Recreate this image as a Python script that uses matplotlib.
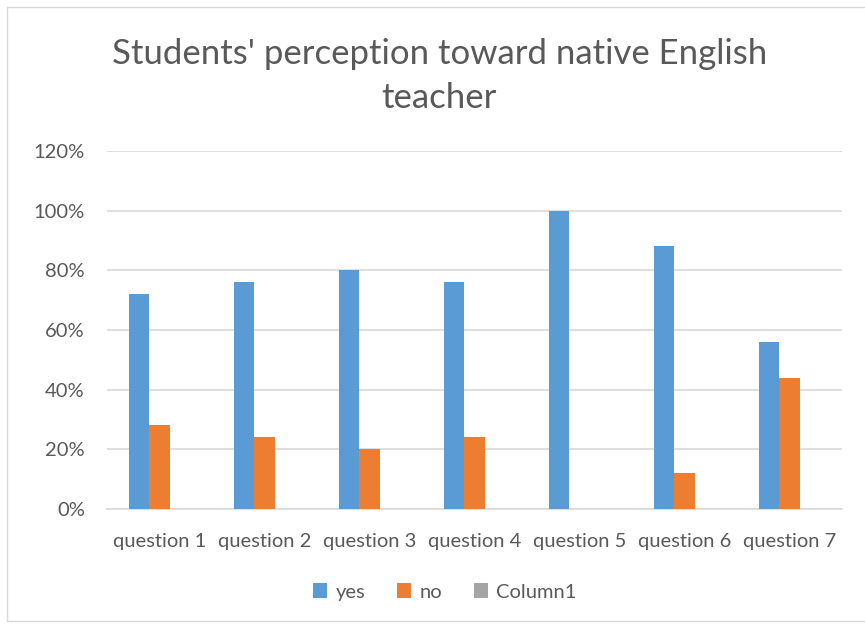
import numpy as np
import matplotlib.pyplot as plt
from matplotlib.patches import Rectangle

plt.rcParams['font.family'] = ['Lato', 'DejaVu Sans']

# data
categories = ['question 1', 'question 2', 'question 3', 'question 4',
              'question 5', 'question 6', 'question 7']
yes = [0.72, 0.76, 0.80, 0.76, 1.00, 0.88, 0.56]
no = [0.28, 0.24, 0.20, 0.24, 0.0, 0.12, 0.44]
column1 = [0, 0, 0, 0, 0, 0, 0]
series_names = ['yes', 'no', 'Column1']
colors = ['#5B9BD5', '#ED7D31', '#A5A5A5']
yticks = [0, 0.2, 0.4, 0.6, 0.8, 1.0, 1.2]

txt = '#595959'

fig = plt.figure(figsize=(8.65, 6.25), dpi=100)
ax = fig.add_axes([107 / 865, 1 - 509 / 625, 735 / 865, 358 / 625])

# chart border
fig.patches.append(Rectangle((7 / 865, 4 / 625), 1.0, 1 - 11 / 625,
                             transform=fig.transFigure, fill=False,
                             edgecolor='#D9D9D9', linewidth=1))

x = np.arange(len(categories))
w = 0.195
for i, (vals, name, c) in enumerate(zip([yes, no, column1], series_names, colors)):
    ax.bar(x + (i - 1) * w, vals, w, color=c, label=name, zorder=3)

ax.set_xlim(-0.5, len(categories) - 0.5)
ax.set_ylim(0, 1.2)
ax.set_yticks(yticks)
ax.set_yticklabels([f'{int(round(t * 100))}%' for t in yticks])
ax.set_xticks(x)
ax.set_xticklabels(categories)
ax.yaxis.grid(True, color='#D9D9D9', linewidth=1.2, zorder=0)
for s in ax.spines.values():
    s.set_visible(False)
ax.spines['bottom'].set_visible(True)
ax.spines['bottom'].set_color('#D9D9D9')
ax.spines['bottom'].set_linewidth(1.2)
ax.tick_params(length=0, labelsize=14.5, labelcolor=txt)
ax.tick_params(axis='y', pad=16)
ax.tick_params(axis='x', pad=17)

fig.text(0.508, 1 - 76 / 625, "Students' perception toward native English\nteacher",
         ha='center', va='center', fontsize=25, color=txt, linespacing=1.5)

fig.legend(loc='center', bbox_to_anchor=(445 / 865, 1 - 592 / 625), ncol=3,
           frameon=False, fontsize=14.5, labelcolor=txt, handlelength=0.7,
           handleheight=0.7, handletextpad=0.4, columnspacing=1.6)

fig.savefig('out.png', dpi=100)
